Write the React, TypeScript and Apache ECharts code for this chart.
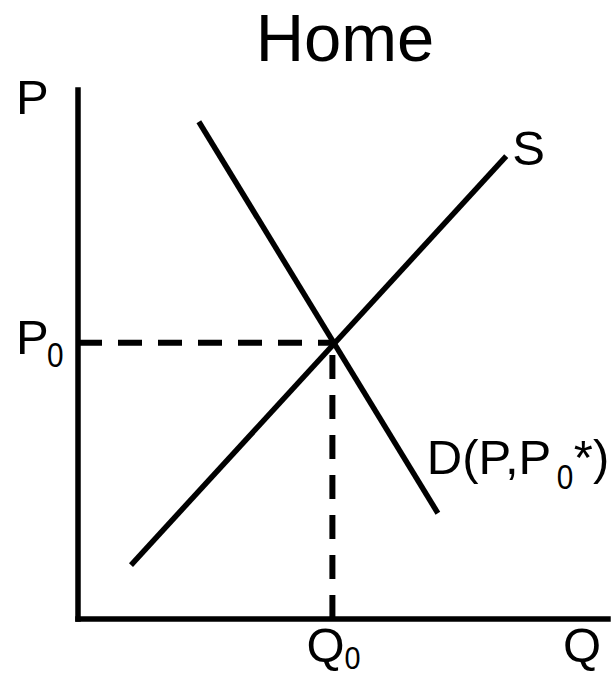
import React, { useEffect, useRef } from "react";
import * as echarts from "echarts";

// Curves in (Q, P) units; axes run 0..100
const supplyCurve: number[][] = [
  [10, 10.2],
  [80.8, 87.5],
];
const demandCurve: number[][] = [
  [22.8, 94],
  [67.9, 20],
];
const equilibrium: number[] = [48, 52.2]; // [Q0, P0]
const axisMax: number[] = [100, 100]; // [Q max, P max]
const titleText = "Home";
const axisNames: string[] = ["Q", "P"];
const curveNames: string[] = ["S", "D(P,P", "0", "*)"];
const subscript = "0";

const FONT = "'Liberation Sans', Arial, Helvetica, sans-serif";
const BIG = 49;
const SUB = 32;

export default function App() {
  const ref = useRef<HTMLDivElement>(null);

  useEffect(() => {
    if (!ref.current) return;
    const chart = echarts.init(ref.current, undefined, { renderer: "svg" });
    const [q0, p0] = equilibrium;
    const black = "#000";
    chart.setOption({
      animation: false,
      backgroundColor: "#fff",
      title: {
        text: titleText,
        left: 345,
        textAlign: "center",
        top: 4,
        padding: 0,
        textStyle: { fontSize: 67, fontWeight: "normal", color: black, fontFamily: FONT },
      },
      grid: { left: 78, right: 6, top: 90, bottom: 57, containLabel: false },
      xAxis: {
        type: "value",
        min: 0,
        max: axisMax[0],
        axisLine: { show: true, onZero: false, lineStyle: { color: black, width: 5.5, cap: "square" } },
        axisTick: { show: false },
        axisLabel: { show: false },
        splitLine: { show: false },
      },
      yAxis: {
        type: "value",
        min: 0,
        max: axisMax[1],
        axisLine: { show: true, onZero: false, lineStyle: { color: black, width: 5.5, cap: "square" } },
        axisTick: { show: false },
        axisLabel: { show: false },
        splitLine: { show: false },
      },
      series: [
        {
          name: "Supply",
          type: "line",
          data: supplyCurve,
          symbol: "none",
          lineStyle: { color: black, width: 5.5 },
        },
        {
          name: "Demand",
          type: "line",
          data: demandCurve,
          symbol: "none",
          lineStyle: { color: black, width: 5.5 },
        },
        {
          name: "P0 guide",
          type: "line",
          data: [
            [0, p0],
            [q0, p0],
          ],
          symbol: "none",
          lineStyle: { color: black, width: 6, type: [24, 16] },
        },
        {
          name: "Q0 guide",
          type: "line",
          data: [
            [q0, 0],
            [q0, p0],
          ],
          symbol: "none",
          lineStyle: { color: black, width: 6, type: [24, 16] },
        },
      ],
    });

    const px = (pt: number[]) => chart.convertToPixel({ gridIndex: 0 }, pt) as number[];
    const origin = px([0, 0]);
    const eq = px([q0, p0]);
    const topY = px([0, axisMax[1]]);
    const rightX = px([axisMax[0], 0]);
    const sEnd = px(supplyCurve[1]);
    const dEnd = px(demandCurve[1]);

    const txt = (text: string, x: number, y: number, size: number, scaleX = 1) => ({
      type: "text",
      x,
      y,
      scaleX,
      style: {
        text,
        fontSize: size,
        fontFamily: FONT,
        fill: black,
        align: "left",
        verticalAlign: "middle",
      },
    });

    chart.setOption({
      graphic: [
        txt(axisNames[1], origin[0] - 62, topY[1] + 7, BIG),
        txt(axisNames[1], origin[0] - 62, eq[1] - 6, BIG),
        txt(subscript, origin[0] - 31, eq[1] + 12, SUB + 3, 0.85),
        txt(axisNames[0], rightX[0] - 45, origin[1] + 26, BIG),
        txt(axisNames[0], eq[0] - 26, origin[1] + 26, BIG),
        txt(subscript, eq[0] + 12, origin[1] + 38, SUB, 0.9),
        txt(curveNames[0], sEnd[0] + 6, sEnd[1] - 8, BIG),
        txt(curveNames[1], dEnd[0] - 11, dEnd[1] - 56, BIG),
        txt(curveNames[2], dEnd[0] + 119, dEnd[1] - 36, SUB + 3, 0.85),
        txt(curveNames[3], dEnd[0] + 136, dEnd[1] - 56, BIG),
      ],
    });

    return () => chart.dispose();
  }, []);

  return (
    <div
      ref={ref}
      style={{ position: "fixed", left: 0, top: 0, width: 614, height: 676, background: "#fff" }}
    />
  );
}
